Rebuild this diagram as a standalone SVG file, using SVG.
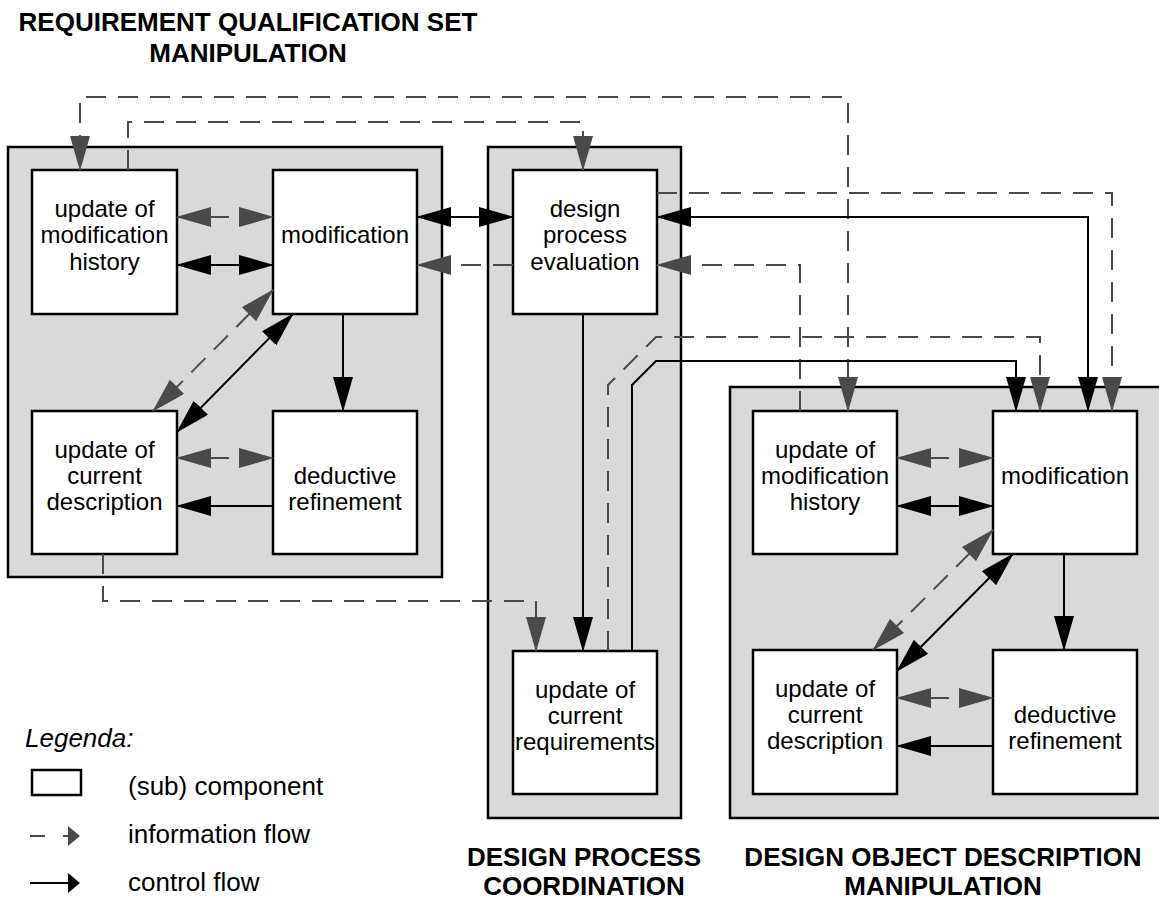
<svg xmlns="http://www.w3.org/2000/svg" width="1159" height="901" viewBox="0 0 1159 901">
<defs>
<style>
.cont{fill:#d9d9d9;stroke:#000;stroke-width:2.5}
.box{fill:#fff;stroke:#000;stroke-width:2.5}
.t{font-family:"Liberation Sans",Arial,sans-serif;font-size:24px;fill:#000;text-anchor:middle}
.title{font-family:"Liberation Sans",Arial,sans-serif;font-size:26px;font-weight:bold;fill:#000;text-anchor:middle}
.leg{font-family:"Liberation Sans",Arial,sans-serif;font-size:26px;fill:#000}
.c{fill:none;stroke:#000;stroke-width:2}
.i{fill:none;stroke:#4a4a4a;stroke-width:2;stroke-dasharray:20 12}
.ce{marker-end:url(#ah)}
.cb{marker-start:url(#ah);marker-end:url(#ah)}
.ie{marker-end:url(#ahg)}
.ib{marker-start:url(#ahg);marker-end:url(#ahg)}
</style>
<marker id="ah" viewBox="0 0 35 20" refX="34" refY="10" markerWidth="35" markerHeight="20" markerUnits="userSpaceOnUse" orient="auto-start-reverse"><path d="M0,0 L35,10 L0,20 z" fill="#000"/></marker>
<marker id="ahg" viewBox="0 0 35 20" refX="34" refY="10" markerWidth="35" markerHeight="20" markerUnits="userSpaceOnUse" orient="auto-start-reverse"><path d="M0,0 L35,10 L0,20 z" fill="#4a4a4a"/></marker>
</defs>
<rect width="1159" height="901" fill="#fff"/>

<g id="titles">
<text class="title" x="248" y="31">REQUIREMENT QUALIFICATION SET</text>
<text class="title" x="248" y="62">MANIPULATION</text>
<text class="title" x="584" y="866">DESIGN PROCESS</text>
<text class="title" x="584" y="895">COORDINATION</text>
<text class="title" x="943" y="866">DESIGN OBJECT DESCRIPTION</text>
<text class="title" x="943" y="895">MANIPULATION</text>
</g>

<g id="containers">
<rect id="rqsm" class="cont" x="8" y="147" width="434" height="430"/>
<rect id="dpc" class="cont" x="488" y="147" width="193" height="671"/>
<rect id="dodm" class="cont" x="730" y="387" width="440" height="431"/>
</g>

<g id="L-history">
<rect class="box" x="32" y="170" width="145" height="144"/>
<text class="t" x="104.5" y="217">update of</text>
<text class="t" x="104.5" y="243">modification</text>
<text class="t" x="104.5" y="270">history</text>
</g>
<g id="L-modification">
<rect class="box" x="273" y="170" width="144" height="144"/>
<text class="t" x="345" y="243">modification</text>
</g>
<g id="L-description">
<rect class="box" x="32" y="411" width="145" height="143"/>
<text class="t" x="104.5" y="458">update of</text>
<text class="t" x="104.5" y="484">current</text>
<text class="t" x="104.5" y="510">description</text>
</g>
<g id="L-refinement">
<rect class="box" x="273" y="411" width="144" height="143"/>
<text class="t" x="345" y="484">deductive</text>
<text class="t" x="345" y="510">refinement</text>
</g>

<g id="dpe">
<rect class="box" x="513" y="170" width="144" height="144"/>
<text class="t" x="585" y="217">design</text>
<text class="t" x="585" y="243">process</text>
<text class="t" x="585" y="270">evaluation</text>
</g>
<g id="ucr">
<rect class="box" x="513" y="651" width="144" height="143"/>
<text class="t" x="585" y="698">update of</text>
<text class="t" x="585" y="724">current</text>
<text class="t" x="585" y="750">requirements</text>
</g>

<g id="R-history">
<rect class="box" x="753" y="411" width="144" height="143"/>
<text class="t" x="825" y="458">update of</text>
<text class="t" x="825" y="484">modification</text>
<text class="t" x="825" y="510">history</text>
</g>
<g id="R-modification">
<rect class="box" x="993" y="411" width="144" height="143"/>
<text class="t" x="1065" y="484">modification</text>
</g>
<g id="R-description">
<rect class="box" x="753" y="650" width="144" height="144"/>
<text class="t" x="825" y="697">update of</text>
<text class="t" x="825" y="723">current</text>
<text class="t" x="825" y="749">description</text>
</g>
<g id="R-refinement">
<rect class="box" x="993" y="650" width="144" height="144"/>
<text class="t" x="1065" y="723">deductive</text>
<text class="t" x="1065" y="749">refinement</text>
</g>

<g id="connectors">
<!-- left component -->
<path class="i ib" d="M177,217 H273"/>
<path class="c cb" d="M177,265 H273"/>
<path class="i ib" d="M273,290 L153,411"/>
<path class="c cb" d="M293,314 L177,432"/>
<path class="c ce" d="M343,314 V411"/>
<path class="i ib" d="M177,458 H273"/>
<path class="c ce" d="M273,506 H177"/>
<!-- cross component -->
<path class="c cb" d="M417,217 H513"/>
<path class="i ie" d="M513,265 H417"/>
<path class="c ce" d="M583,314 V651"/>
<path class="i ie" d="M128,170 V122 H583 V170"/>
<path class="i ib" d="M848,411 V97 H80 V170"/>
<path class="i ie" d="M103,554 V601 H536 V651"/>
<path class="i ie" d="M657,193 H1112 V411"/>
<path class="c cb" d="M657,217 H1088 V411"/>
<path class="i ie" d="M800,411 V265 H657"/>
<path class="i ie" d="M608,651 V385 L656,337 H1040 V411"/>
<path class="c ce" d="M632,651 V385 L656,361 H1016 V411"/>
<!-- right component -->
<path class="i ib" d="M897,458 H993"/>
<path class="c cb" d="M897,506 H993"/>
<path class="i ib" d="M993,530 L873,650"/>
<path class="c cb" d="M1013,554 L897,671"/>
<path class="c ce" d="M1064,554 V650"/>
<path class="i ib" d="M897,698 H993"/>
<path class="c ce" d="M993,746 H897"/>
</g>

<g id="legend">
<text class="leg" x="25" y="747" font-style="italic">Legenda:</text>
<rect x="32" y="770" width="49" height="25" fill="#fff" stroke="#000" stroke-width="2.5"/>
<text class="leg" x="128" y="795">(sub) component</text>
<line x1="30" y1="836" x2="45" y2="836" stroke="#4a4a4a" stroke-width="2"/>
<line x1="63" y1="836" x2="69" y2="836" stroke="#4a4a4a" stroke-width="2"/>
<polygon points="68,826 80,836 68,846" fill="#4a4a4a"/>
<text class="leg" x="128" y="843">information flow</text>
<line x1="30" y1="883" x2="69" y2="883" stroke="#000" stroke-width="2"/>
<polygon points="68,873 80,883 68,893" fill="#000"/>
<text class="leg" x="128" y="891">control flow</text>
</g>
</svg>
